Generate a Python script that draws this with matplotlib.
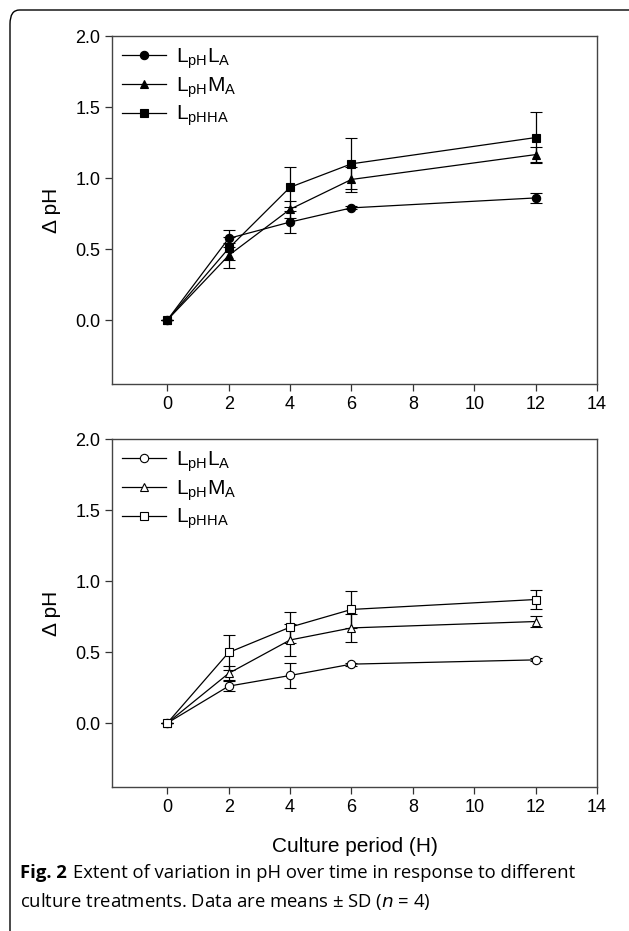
import numpy as np
import matplotlib.pyplot as plt
from matplotlib.patches import FancyBboxPatch

# data
hours = [0, 2, 4, 6, 12]
labels = [r'$\mathregular{L_{pH}L_{A}}$',
          r'$\mathregular{L_{pH}M_{A}}$',
          r'$\mathregular{L_{pHHA}}$']

# top panel (filled markers)
top_la = [0, 0.575, 0.69, 0.79, 0.86]
top_la_sd = [0, 0.06, 0.075, 0.01, 0.033]
top_ma = [0, 0.455, 0.78, 0.99, 1.165]
top_ma_sd = [0, 0.09, 0.06, 0.09, 0.055]
top_ha = [0, 0.505, 0.935, 1.10, 1.285]
top_ha_sd = [0, 0.08, 0.14, 0.18, 0.18]

# bottom panel (open markers)
bot_la = [0, 0.26, 0.335, 0.415, 0.445]
bot_la_sd = [0, 0.035, 0.085, 0.01, 0.01]
bot_ma = [0, 0.35, 0.585, 0.67, 0.715]
bot_ma_sd = [0, 0.05, 0.11, 0.10, 0.04]
bot_ha = [0, 0.497, 0.675, 0.80, 0.87]
bot_ha_sd = [0, 0.12, 0.11, 0.13, 0.07]

xticks = [0, 2, 4, 6, 8, 10, 12, 14]
yticks = [0.0, 0.5, 1.0, 1.5, 2.0]

plt.rcParams['font.family'] = ['Liberation Sans', 'DejaVu Sans']
plt.rcParams['mathtext.fontset'] = 'custom'
plt.rcParams['mathtext.rm'] = 'Liberation Sans'

fig = plt.figure(figsize=(6.29, 9.31), dpi=100)

W, H = 629, 931
def box(l, t, r, b):
    return [l / W, 1 - b / H, (r - l) / W, (b - t) / H]

ax1 = fig.add_axes(box(112, 36, 597, 384))
ax2 = fig.add_axes(box(112, 439, 597, 787))

def draw(ax, series, filled):
    markers = ['o', '^', 's']
    for (y, sd), m, lab in zip(series, markers, labels):
        ax.errorbar(hours, y, yerr=sd, color='black', lw=0.9, marker=m,
                    markersize=6 if m != 's' else 5.5,
                    markerfacecolor='black' if filled else 'white',
                    markeredgecolor='black', markeredgewidth=0.8,
                    capsize=4.5, capthick=0.9, elinewidth=0.9, label=lab)
    ax.set_xlim(-1.8, 14)
    ax.set_ylim(-0.45, 2.0)
    ax.set_xticks(xticks)
    ax.set_yticks(yticks)
    ax.set_yticklabels(['%.1f' % v for v in yticks])
    ax.tick_params(direction='out', length=5, width=0.9, labelsize=13,
                   top=False, right=False, color='#333333')
    for s in ax.spines.values():
        s.set_linewidth(1.0)
        s.set_color('#444444')
    ax.set_ylabel(u'\u0394 pH', fontsize=15, labelpad=10)
    handles, labs = ax.get_legend_handles_labels()
    handles = [h[0] for h in handles]
    ax.legend(handles, labs, loc='upper left', frameon=False, fontsize=15,
              handlelength=2.1, handletextpad=0.45, labelspacing=0.2,
              borderaxespad=0.1, borderpad=0.4)

draw(ax1, [(top_la, top_la_sd), (top_ma, top_ma_sd), (top_ha, top_ha_sd)], True)
draw(ax2, [(bot_la, bot_la_sd), (bot_ma, bot_ma_sd), (bot_ha, bot_ha_sd)], False)
ax2.set_xlabel('Culture period (H)', fontsize=15, labelpad=15)

# frame around the figure panel
frame = FancyBboxPatch((10 / W, -0.05), 1.2, 1 - 10 / H + 0.05,
                       boxstyle='round,pad=0,rounding_size=0.015',
                       transform=fig.transFigure, fill=False,
                       edgecolor='black', lw=1.0)
fig.patches.append(frame)

# caption
cap_font = ['Open Sans', 'DejaVu Sans']
fig.text(20 / W, 1 - 873 / H, 'Fig. 2', fontsize=13.3, fontweight='bold',
         family=cap_font, va='center')
fig.text(73 / W, 1 - 873 / H,
         'Extent of variation in pH over time in response to different',
         fontsize=13.3, family=cap_font, va='center')
fig.text(20 / W, 1 - 902 / H,
         u'culture treatments. Data are means \u00b1 SD ($\\it{n}$ = 4)',
         fontsize=13.3, family=cap_font, va='center')

fig.savefig('out.png', dpi=100)
